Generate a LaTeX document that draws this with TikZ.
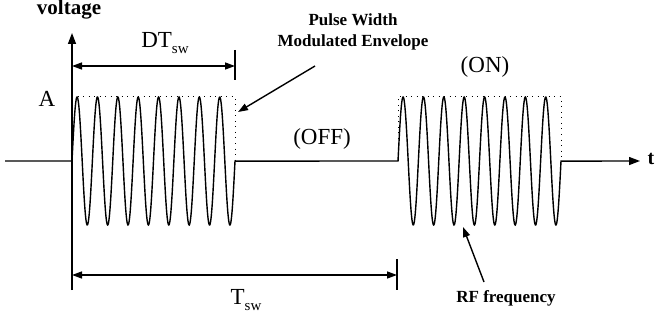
\documentclass[tikz,border=0pt]{standalone}
\usepackage{fontspec}
\setmainfont{Liberation Serif}
\usetikzlibrary{positioning,arrows.meta}
\newcommand{\lowidx}[1]{\raisebox{-0.3em}{\fontsize{15}{15}\selectfont #1}}

\begin{document}
\begin{tikzpicture}[x=1pt, y=-1pt, line width=1.4pt,
          big/.style={font=\fontsize{23}{27}\selectfont, inner sep=0pt},
          note/.style={font=\fontsize{17}{20.5}\selectfont\bfseries, align=center, inner sep=0pt},
          axis/.style={-{Triangle[length=11pt, width=8pt]}},
          dim/.style={{Triangle[length=10pt, width=7pt]}-{Triangle[length=10pt, width=7pt]}},
          env/.style={line width=1pt, dash pattern=on 1pt off 4.5pt},
          ptr/.style={-{Triangle[length=10pt, width=7pt]}}]
        \useasboundingbox (0,0) rectangle (660,323);
        % axes
        \coordinate (o) at (72,161);
        \coordinate (ytop) at (72,33);
        \coordinate (ybot) at (72,290);
        \draw[axis] (ybot) -- (ytop);
        \node[font=\fontsize{21}{21}\selectfont\bfseries, inner sep=0pt] (vlab) at (69,10) {voltage};
        \node[font=\fontsize{20}{20}\selectfont\bfseries, inner sep=0pt] (tlab) at (651,159) {t};
        % signal: two RF bursts on the time axis (8 periods each)
        \draw[axis] (5,161) -- (o)
             -- plot[domain=72:235, samples=400] (\x, {161-64*sin(17.6687*(\x-72))})
             -- (398,161)
             -- plot[domain=398:561, samples=400] (\x, {161-64*sin(17.6687*(\x-398))})
             -- (640,161);
        % envelope
        \draw[env] (72,97) -- (235,97) -- (235,161);
        \draw[env] (398,161) -- (398,97) -- (561,97) -- (561,161);
        \node[big] (alab) at (47,99) {A};
        % on / off time
        \coordinate (d1) at (235,50);
        \coordinate (d2) at (235,80);
        \draw (d1) -- (d2);
        \draw[dim] (72,66) -- (235,66);
        \node[big] (dt) at (165,43) {DT\lowidx{sw}};
        \coordinate (t1) at (397,259);
        \coordinate (t2) at (397,290);
        \draw (t1) -- (t2);
        \draw[dim] (72,275) -- (397,275);
        \node[big] (tsw) at (246,300) {T\lowidx{sw}};
        \node[big] (off) at (322,139) {(OFF)};
        \node[big] (on) at (485,67) {(ON)};
        % pointers
        \node[note] (pwm) at (353,32) {Pulse Width\\Modulated Envelope};
        \coordinate (pwmtail) at (315,66);
        \coordinate (pwmtip) at (238,112);
        \draw[ptr] (pwmtail) -- (pwmtip);
        \node[note] (rf) at (506,298) {RF frequency};
        \coordinate (rftail) at (484,282);
        \coordinate (rftip) at (463,227);
        \draw[ptr] (rftail) -- (rftip);
\end{tikzpicture}
\end{document}
